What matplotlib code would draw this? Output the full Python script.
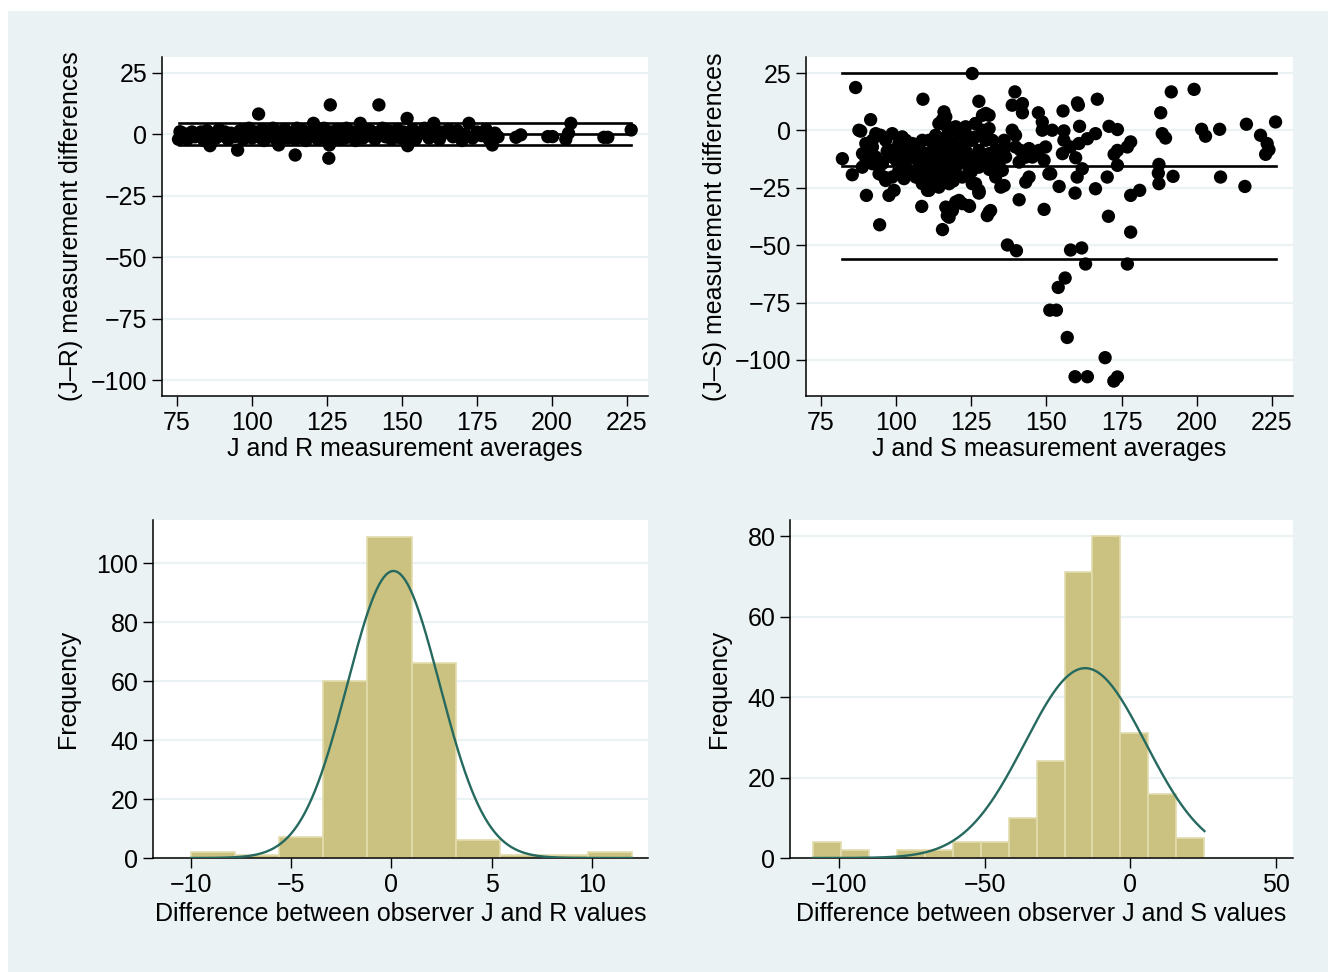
import numpy as np
import matplotlib
matplotlib.use("Agg")
import matplotlib.pyplot as plt
from matplotlib.patches import Rectangle

plt.rcParams['font.family'] = ['Liberation Sans', 'DejaVu Sans']

# ------------------------------------------------------------------
# Bland-Altman data: J vs R
# ------------------------------------------------------------------
jr_avg = [75.5, 76, 76, 77, 78.5, 80, 81, 82.5, 84, 85, 86, 87, 88, 89, 90, 91, 92, 93,
          94, 95.2, 96, 97, 98, 99, 100, 101, 102.2, 102.5, 103.5, 104, 105, 106, 107,
          108, 108.9, 109.5, 110, 111, 112, 113, 114.4, 114.5, 115, 116, 117, 118, 119,
          120.5, 120.5, 121.5, 122, 123, 124, 125, 125.6, 125.8, 126.1, 126.5, 127.5,
          128.5, 129.5, 130.5, 131.5, 132.5, 133.5, 134.5, 135.5, 136.1, 137, 138, 139,
          140, 141, 142.3, 142.5, 143.5, 144.5, 145.5, 146.5, 147.5, 148.5, 149.5, 150.5,
          151.7, 151.9, 152.5, 153.5, 154.5, 156, 157.5, 159, 160.6, 161, 162.5, 164,
          165.5, 167, 168.5, 170, 171, 172.3, 173.5, 175, 176.5, 178, 179, 180.1, 181,
          182, 188, 189.6, 198.6, 200.2, 204.6, 205.5, 206.3, 217.3, 218.6, 226.4,
          79, 83, 92.5, 97.5, 103, 110.5, 118.5, 124.5, 131, 139.5, 147, 155, 163]
jr_diff = [-2, -1.5, 1.1, 0.5, -2, 1, -1, 0.5, -2.5, 1.5, -4.6, 0, -1.5, 2, -0.5, 1, -2, 0.5,
           -1, -6.4, 1.5, -2, 0, 2.5, -1.5, 1, 8.3, -0.5, 2, -2.5, 0.5, -1, 2.5,
           -2, -4.3, 1, -0.5, 2, -1.5, 0.5, -8.4, -2, 2.5, -0.5, 1.5, -2.5, 0,
           4.5, -1, 2, -2, 0.5, 2.5, -1.5, -9.7, -4.3, 12, 1, -0.5,
           2, -2, 0.5, 2.5, -1, 1, -2.5, 0, 4.5, -1.5, 2, -0.5,
           1, -2, 12, 0.5, 2.5, -1, 1.5, -2, 0, 2, -1.5, 1,
           6.5, -4.6, -0.5, 2, -2, 0.5, 2.5, -1.5, 4.5, 1, -2, 0.5,
           2, -1, 1.5, -2.5, 0, 4.5, -1.5, 1, -0.5, 2, -2, -4.3, 0.5,
           -1, -1.2, -0.2, -0.9, -0.9, -2, 0.5, 4.5, -1.2, -1.2, 1.8,
           -1, 1, -1, 1.5, -1.5, 1.5, -1, 0.5, -1.5, 1.5, -1, -0.5, 1]
jr_mean, jr_sd = 0.1, 2.3

# ------------------------------------------------------------------
# Bland-Altman data: J vs S
# ------------------------------------------------------------------
js_avg = [125.3, 86.5, 108.9, 139.5, 127.5, 138.6, 142, 142, 166.9, 160.3, 160.6, 155.5,
          147.3, 148.6, 128.7, 130.9, 126.4, 115.9, 115.4, 91.5, 88.2, 94.8, 82.1, 188,
          191.5, 199.1, 188.5, 189.6, 201.6, 202.9, 207.6, 216.5, 221.2, 223.4, 224,
          222.9, 226.2, 187.4, 187.2, 187.4, 192.1, 207.9, 216, 170.8, 173.6, 178, 176.9,
          173.6, 172.5, 173.6, 170.2, 166.3, 161, 166.3, 163.6, 160.8, 158, 155.8, 155.8,
          155.3, 159.7, 161.9, 160.2, 154.2, 159.5, 178, 181, 170.6, 178, 176.9, 137,
          140, 158, 161.7, 163, 156.2, 153.9, 151.1, 153.3, 156.9, 169.5, 159.5, 163.6,
          172.4, 173.6, 149.2, 140.9, 130.9, 130.3, 124.4, 127.5, 117.3, 116.5, 117,
          115.4, 119.8, 122, 108.5, 94.5, 90.1, 97.6, 99.3, 85.4, 96, 102.6, 103.7,
          134.8, 135.9, 143.1, 144.2, 151.4,
          129.8, 127.5, 125.3, 123.1, 120.9, 119.8, 122.0, 125.3, 127.5, 117.6, 115.4,
          113.1, 112.0, 109.8, 107.6, 105.4, 103.2, 100.9, 99.8, 98.7, 102.0, 104.3,
          106.5, 108.7, 110.9, 100.9, 98.7, 96.5, 94.3, 95.4, 93.2, 92.1, 91.0, 90.0,
          88.7, 93.2, 96.5, 98.7, 102.0, 110.9, 114.2, 116.5, 118.7, 120.9, 123.1,
          125.3, 109.8, 114.2, 116.5, 118.7, 120.9, 124.2, 127.5, 129.8, 132.0, 134.2,
          112.0, 107.6, 104.3, 106.5, 108.7, 113.1, 116.5, 119.8, 122.0, 114.2, 117.0,
          123.1, 126.4, 128.7, 130.9, 133.1, 136.4, 135.9, 139.7, 141.4,
          138.6, 139.7, 144.2, 143.1, 140.9, 136.4, 134.2, 132, 130.9, 133.1, 135.3,
          148.6, 151.9, 149.7, 147.5, 145.3, 149.2, 150.8,
          87.6, 89.9, 92.1, 88.8, 91.5, 92.1, 95.4, 98.7, 102, 105.9, 113.1, 114.2,
          107, 110.4, 114.2, 116.5, 117, 118.7, 117.6, 120.9, 124.2, 119.2, 122,
          126.4, 129.8, 119.8, 123.1, 126.4, 127.6, 131.4,
          105, 110, 112, 118, 121, 125, 128, 103, 108, 115, 111, 119, 123, 131, 100, 97]
js_diff = [24.8, 18.7, 13.6, 16.8, 12.7, 11.0, 11.7, 7.7, 13.6, 12.0, 11.0, 8.5,
           7.7, 3.7, 6.6, 6.6, 3.0, 8.1, 4.7, 4.7, -0.3, -2.1, -12.3, 7.7,
           16.8, 17.9, -1.4, -3.3, 0.5, -2.5, 0.5, 2.7, -2.1, -5.7, -8.4,
           -10.4, 3.7, -14.8, -18.6, -23.2, -20, -20.3, -24.4, 1.8, 0.4, -5, -7.2,
           -8.7, -10.4, -15.2, -20.3, -25.4, 1.8, -1.4, -3.6, -5.7, -7.2, -0.2, -4.3,
           -10.1, -11.9, -16.7, -20.3, -24.4, -27.3, -28.3, -26.1, -37.4, -44.3, -58.2, -49.9,
           -52.4, -52.1, -51.2, -58.2, -64.3, -68.4, -78.3, -78.3, -90.2, -99, -107.3, -107.3,
           -109.2, -107.4, -34.4, -30.2, -35.6, -37.1, -33.1, -27.3, -34.9, -33.4, -37.1,
           -43.2, -31.2, -31.9, -33.1, -41.1, -28.3, -28.3, -26.1, -19.3, -20.3, -21, -18.1,
           -24.7, -24, -22.5, -20.3, -18.9,
           -4.3, -8.7, -11.6, -8.7, -13.0, -16.0, -20.3, -23.2, -26.1, -23.2, -20.3,
           -17.4, -13.0, -10.1, -7.2, -5.7, -4.3, -5.7, -8.7, -11.6, -14.5, -17.4,
           -20.3, -23.2, -26.1, -17.4, -20.3, -21.8, -18.9, -14.5, -11.6, -7.2, -8.7, -13.0,
           -16.0, -1.4, -4.3, -1.4, -2.8, -4.3, -7.2, -10.1, -5.7, -2.8, -1.4,
           -4.3, -14.5, -14.5, -16.0, -18.9, -10.1, -16.0, -16.0, -13.0, -13.0, -14.5,
           -21.8, -16.0, -8.7, -11.6, -4.3, -2.1, -2.8, 1.6, 0.1, 3.0, 1.6,
           1.6, -2.8, 0.1, 0.8, -8.7, -11.6, -4.3, -7.2, -8.7,
           0.1, -2.1, -7.9, -11.6, -13.8, -7.2, -8.7, -4.3, -10.1, -20.3, -17.4,
           0.1, 0.1, -7.2, -8.7, -11.6, -13.0, -18.9,
           0.1, -5.7, -4.3, -10.1, -9.4, -14.5, -13.8, -8.7, -4.3, -8, -7.2, -10.1,
           -20.3, -26.1, -24.7, 5.9, 1.5, -34.9, -37.8, -30.5, -32.7, 0.1, -2.8,
           3, 7.4, -10.1, -14.5, -23.2, -26.9, -34.9,
           -12, -15, -9, -12, -7, -18, -12, -10, -18, -6, -19, -22, -5, -17, -13, -9]
js_mean, js_sd = -15.5, 20.7

# ------------------------------------------------------------------
# Histogram counts of the differences
# ------------------------------------------------------------------
jr_edges = [-10, -7.8, -5.6, -3.4, -1.2, 1.0, 3.2, 5.4, 7.6, 9.8, 12.0]
jr_counts = [2, 1, 7, 60, 109, 66, 6, 1, 1, 2]

js_edges = [-109, -99.4, -89.8, -80.2, -70.6, -61.0, -51.4, -41.8, -32.2, -22.6,
            -13.0, -3.4, 6.2, 15.8, 25.4]
js_counts = [4, 2, 0, 2, 2, 4, 4, 10, 24, 71, 80, 31, 16, 5]

BG = '#eaf2f3'
BAR = '#cbc281'
BAR_EDGE = '#e2dcae'
CURVE = '#26695f'
FS = 18


def style_axes(ax):
    ax.set_facecolor('white')
    for s in ['top', 'right']:
        ax.spines[s].set_visible(False)
    for s in ['left', 'bottom']:
        ax.spines[s].set_linewidth(1.1)
        ax.spines[s].set_color('black')
    ax.tick_params(length=7, width=1.0, pad=3.5, labelsize=FS)
    ax.grid(axis='y', color=BG, linewidth=1.6)
    ax.set_axisbelow(True)


def bland_altman(ax, avg, diff, mean, sd, xlabel, ylabel, ylim):
    style_axes(ax)
    xmin, xmax = min(avg), max(avg)
    for v in [mean + 1.96 * sd, mean, mean - 1.96 * sd]:
        ax.plot([xmin, xmax], [v, v], color='black', linewidth=1.9, zorder=2)
    ax.scatter(avg, diff, s=92, color='black', edgecolors='none', zorder=3)
    ax.set_xlim(70, 232)
    ax.set_ylim(*ylim)
    ax.set_xticks([75, 100, 125, 150, 175, 200, 225])
    ax.set_yticks([25, 0, -25, -50, -75, -100])
    ax.set_xlabel(xlabel, fontsize=FS, labelpad=2)
    ax.set_ylabel(ylabel, fontsize=FS, labelpad=6)


def hist_normal(ax, edges, counts, mean, sd, xlabel, xlim, ylim, xticks, yticks):
    style_axes(ax)
    edges = np.array(edges)
    widths = np.diff(edges)
    ax.bar(edges[:-1], counts, width=widths, align='edge', color=BAR,
           edgecolor=BAR_EDGE, linewidth=1.2, zorder=2)
    n = sum(counts)
    xs = np.linspace(edges[0], edges[-1], 400)
    ys = n * widths[0] / (sd * np.sqrt(2 * np.pi)) * np.exp(-0.5 * ((xs - mean) / sd) ** 2)
    ax.plot(xs, ys, color=CURVE, linewidth=1.7, zorder=3)
    ax.set_xlim(*xlim)
    ax.set_ylim(*ylim)
    ax.set_xticks(xticks)
    ax.set_yticks(yticks)
    ax.set_xlabel(xlabel, fontsize=FS, labelpad=4)
    ax.set_ylabel('Frequency', fontsize=FS, labelpad=12)


fig = plt.figure(figsize=(13.28, 9.72), dpi=100, facecolor='white')
fig.patches.append(Rectangle((8 / 1328, 0), 1, (972 - 11) / 972,
                             transform=fig.transFigure, facecolor=BG,
                             edgecolor='none', zorder=-10))

ax1 = fig.add_axes([162 / 1328, 1 - 396 / 972, 486 / 1328, 339 / 972])
ax2 = fig.add_axes([806 / 1328, 1 - 396 / 972, 487 / 1328, 339 / 972])
ax3 = fig.add_axes([153 / 1328, 1 - 858 / 972, 495 / 1328, 338 / 972])
ax4 = fig.add_axes([790 / 1328, 1 - 858 / 972, 503 / 1328, 338 / 972])

bland_altman(ax1, jr_avg, jr_diff, jr_mean, jr_sd,
             'J and R measurement averages', '(J–R) measurement differences',
             (-106.5, 31.5))
bland_altman(ax2, js_avg, js_diff, js_mean, js_sd,
             'J and S measurement averages', '(J–S) measurement differences',
             (-115.7, 32))

hist_normal(ax3, jr_edges, jr_counts, jr_mean, jr_sd,
            'Difference between observer J and R values',
            (-11.9, 12.8), (0, 114.6), [-10, -5, 0, 5, 10], [0, 20, 40, 60, 80, 100])
hist_normal(ax4, js_edges, js_counts, js_mean, js_sd,
            'Difference between observer J and S values',
            (-116.8, 55.8), (0, 84), [-100, -50, 0, 50], [0, 20, 40, 60, 80])

fig.savefig('out.png', dpi=100, facecolor=fig.get_facecolor())
